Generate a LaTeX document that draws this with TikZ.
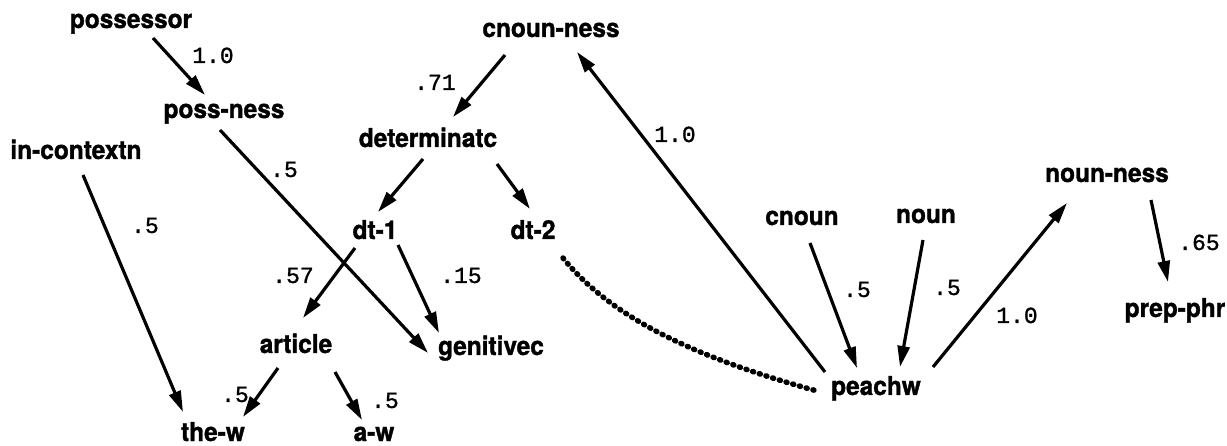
\documentclass[tikz,border=0pt]{standalone}
\usepackage{fontspec}
\usetikzlibrary{arrows.meta,calc}
\newfontfamily\nodefont[FakeStretch=0.94,FakeBold=1.3]{TeX Gyre Heros}
\newfontfamily\labfont[FakeBold=1.2]{Liberation Mono}
\begin{document}
\begin{tikzpicture}[x=1pt,y=-1pt,
  concept/.style={anchor=base,inner sep=0pt,font=\nodefont\bfseries\fontsize{26}{30}\selectfont},
  weight/.style={anchor=base,inner sep=0pt,font=\labfont\fontsize{23}{27}\selectfont},
  link/.style={line width=3.2pt,-{Triangle[length=21pt,width=12pt]}},
  assoc/.style={line width=5.5pt,line cap=round,dash pattern=on 1pt off 6pt}]
\useasboundingbox (0,0) rectangle (1227,446);
% concepts
\node[concept] (possessor)  at (131,28)  {possessor};
\node[concept] (possness)   at (224,118) {poss-ness};
\node[concept] (incontextn) at (76,159)  {in-contextn};
\node[concept] (cnounness)  at (551,37)  {cnoun-ness};
\node[concept] (determinatc) at (428,147) {determinatc};
\node[concept] (dtone)      at (375,239) {dt-1};
\node[concept] (dttwo)      at (533,239) {dt-2};
\node[concept] (article)    at (296,353) {article};
\node[concept] (genitivec)  at (491,355) {genitivec};
\node[concept] (thew)       at (213,441) {the-w};
\node[concept] (aw)         at (374,441) {a-w};
\node[concept] (cnoun)      at (802,225) {cnoun};
\node[concept] (noun)       at (926,223) {noun};
\node[concept] (peachw)     at (876,395) {peachw};
\node[concept] (nounness)   at (1107,182) {noun-ness};
\node[concept] (prepphr)    at (1175,317) {prep-phr};
% weights
\node[weight] (w1) at (213,63)  {1.0};
\node[weight] (w2) at (284,177) {.5};
\node[weight] (w3) at (145,233) {.5};
\node[weight] (w4) at (435,90)  {.71};
\node[weight] (w5) at (675,142) {1.0};
\node[weight] (w6) at (293,283) {.57};
\node[weight] (w7) at (461,283) {.15};
\node[weight] (w8) at (235,402) {.5};
\node[weight] (w9) at (385,408) {.5};
\node[weight] (w10) at (857,297) {.5};
\node[weight] (w11) at (947,295) {.5};
\node[weight] (w12) at (1017,323) {1.0};
\node[weight] (w13) at (1199,250) {.65};
% links
\draw[link] ($(possessor.base)+(22,10)$) -- ($(possness.base)+(-19,-23)$);
\draw[link] ($(possness.base)+(-4,12)$) -- ($(genitivec.base)+(-63,-2)$);
\draw[link] ($(incontextn.base)+(7,16)$) -- ($(thew.base)+(-30,-29)$);
\draw[link] ($(cnounness.base)+(-46,18)$) -- ($(determinatc.base)+(25,-30)$);
\draw[link] ($(determinatc.base)+(-5,12)$) -- ($(dtone.base)+(3,-27)$);
\draw[link] ($(determinatc.base)+(69,17)$) -- ($(dttwo.base)+(-3,-30)$);
\draw[link] ($(dtone.base)+(-20,9)$) -- ($(article.base)+(7,-35)$);
\draw[link] ($(dtone.base)+(23,6)$) -- ($(genitivec.base)+(-52,-22)$);
\draw[link] ($(article.base)+(-18,15)$) -- ($(thew.base)+(30,-24)$);
\draw[link] ($(article.base)+(39,19)$) -- ($(aw.base)+(-12,-21)$);
\draw[link] ($(peachw.base)+(-51,-23)$) -- ($(cnounness.base)+(26,15)$);
\draw[link] ($(cnoun.base)+(8,18)$) -- ($(peachw.base)+(-19,-27)$);
\draw[link] ($(noun.base)+(-3,17)$) -- ($(peachw.base)+(24,-28)$);
\draw[link] ($(peachw.base)+(57,-28)$) -- ($(nounness.base)+(-40,21)$);
\draw[link] ($(nounness.base)+(44,18)$) -- ($(prepphr.base)+(-7,-35)$);
\draw[assoc] ($(dttwo.base)+(30,19)$) .. controls +(58,72) and +(-90,-25) .. ($(peachw.base)+(-59,-4)$);
\end{tikzpicture}
\end{document}
